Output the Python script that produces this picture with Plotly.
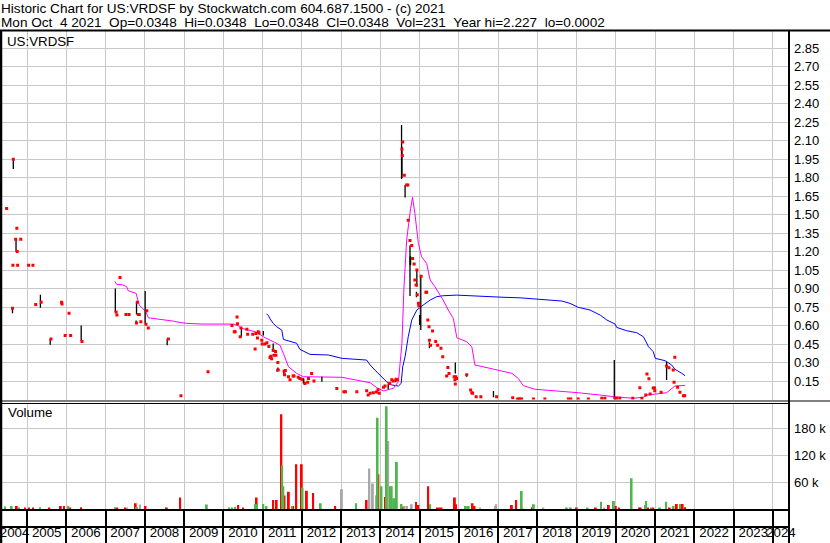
import plotly.graph_objects as go
from datetime import datetime

# ---------------- data (decimal years, prices, volumes) ----------------
dot_t = [2004.48, 2004.63, 2004.64, 2004.65, 2004.71, 2004.74, 2004.75, 2004.76, 2004.84, 2005.04,
         2005.15, 2005.22, 2005.36, 2005.61, 2005.88, 2005.89, 2005.97, 2006.07, 2006.11, 2006.40,
         2007.27, 2007.29, 2007.37, 2007.52, 2007.60, 2007.79, 2007.81, 2007.84, 2007.86, 2007.90,
         2008.03, 2008.05, 2008.09, 2008.60, 2008.92, 2009.61, 2010.22, 2010.28, 2010.30, 2010.35,
         2010.36, 2010.43, 2010.45, 2010.60, 2010.62, 2010.75, 2010.81, 2010.83, 2010.87, 2010.89,
         2010.91, 2010.98, 2010.99, 2011.06, 2011.11, 2011.16, 2011.19, 2011.21, 2011.23, 2011.27,
         2011.29, 2011.33, 2011.34, 2011.39, 2011.40, 2011.55, 2011.56, 2011.58, 2011.66, 2011.70,
         2011.78, 2011.80, 2011.91, 2011.95, 2012.00, 2012.08, 2012.15, 2012.17, 2012.25, 2012.31,
         2012.89, 2013.07, 2013.11, 2013.40, 2013.65, 2013.69, 2013.74, 2013.82, 2013.90, 2013.94,
         2013.97, 2014.08, 2014.12, 2014.24, 2014.29, 2014.33, 2014.40, 2014.43, 2014.55, 2014.56,
         2014.57, 2014.61, 2014.67, 2014.70, 2014.71, 2014.755, 2014.80, 2014.82, 2014.86, 2014.88,
         2014.91, 2014.93, 2014.94, 2014.97, 2014.98, 2015.04, 2015.16, 2015.18, 2015.21, 2015.24,
         2015.25, 2015.28, 2015.33, 2015.41, 2015.46, 2015.545, 2015.59, 2015.69, 2015.72, 2015.75,
         2015.88, 2015.90, 2015.91, 2015.92, 2015.94, 2016.20, 2016.30, 2016.33, 2016.35, 2016.44,
         2016.56, 2016.96, 2017.37, 2017.49, 2017.52, 2017.56, 2017.60, 2017.90, 2018.19, 2018.79,
         2018.85, 2019.04, 2019.30, 2019.64, 2019.72, 2019.98, 2020.02, 2020.10, 2020.43, 2020.61,
         2020.66, 2020.76, 2020.79, 2020.84, 2020.87, 2020.95, 2020.98, 2020.99, 2021.15, 2021.29,
         2021.35, 2021.46, 2021.48, 2021.50, 2021.57, 2021.63, 2021.72, 2021.75]
dot_p = [1.55, 0.74, 1.09, 1.95, 1.30, 1.39, 1.20, 1.09, 1.30, 1.09,
         1.09, 0.77, 0.79, 0.49, 0.79, 0.775, 0.52, 0.70, 0.52, 0.47,
         0.71, 0.685, 0.99, 0.69, 0.69, 0.62, 0.79, 0.69, 0.69, 0.63,
         0.61, 0.72, 0.58, 0.49, 0.03, 0.225, 0.60, 0.55, 0.55, 0.67,
         0.615, 0.51, 0.58, 0.57, 0.53, 0.53, 0.41, 0.535, 0.50, 0.55,
         0.54, 0.48, 0.45, 0.45, 0.46, 0.43, 0.34, 0.35, 0.33, 0.40,
         0.36, 0.39, 0.36, 0.30, 0.24, 0.23, 0.20, 0.235, 0.185, 0.16,
         0.19, 0.19, 0.18, 0.17, 0.165, 0.13, 0.14, 0.17, 0.21, 0.15,
         0.09, 0.063, 0.063, 0.063, 0.07, 0.036, 0.05, 0.055, 0.06, 0.08,
         0.05, 0.10, 0.11, 0.13, 0.16, 0.15, 0.165, 0.16, 2.03, 1.98,
         2.09, 1.82, 1.74, 1.74, 1.455, 1.29, 1.25, 1.145, 1.10, 0.97,
         0.93, 1.05, 0.85, 0.78, 0.76, 1.00, 0.87, 0.87, 0.645, 0.59,
         0.48, 0.44, 0.555, 0.47, 0.44, 0.415, 0.347, 0.19, 0.26, 0.21,
         0.185, 0.16, 0.126, 0.185, 0.17, 0.20, 0.077, 0.055, 0.05, 0.023,
         0.023, 0.023, 0.015, 0.003, 0.005, 0.005, 0.005, 0.005, 0.005, 0.005,
         0.005, 0.005, 0.005, 0.01, 0.01, 0.01, 0.01, 0.01, 0.01, 0.096,
         0.01, 0.036, 0.207, 0.169, 0.045, 0.093, 0.093, 0.07, 0.058, 0.272,
         0.258, 0.239, 0.139, 0.342, 0.099, 0.058, 0.031, 0.031]

bar_t = [2004.63, 2004.65, 2004.72, 2005.34, 2005.59, 2006.38, 2007.25, 2007.78, 2007.79, 2008.01,
         2008.57, 2010.46, 2011.02, 2011.27, 2011.37, 2011.39, 2011.54, 2012.04, 2012.05, 2012.51,
         2014.20, 2014.39, 2014.54, 2014.55, 2014.63, 2014.755, 2014.76, 2014.77, 2014.92, 2014.93,
         2015.00, 2015.01, 2015.03, 2015.25, 2015.91, 2016.20, 2016.88, 2019.96, 2021.29]
bar_lo = [0.70, 1.87, 1.20, 0.745, 0.445, 0.475, 0.71, 0.62, 0.69, 0.62,
          0.44, 0.51, 0.52, 0.385, 0.225, 0.24, 0.20, 0.13, 0.13, 0.144,
          0.083, 0.14, 1.79, 1.80, 1.64, 0.84, 1.09, 1.09, 0.83, 0.915,
          0.604, 0.604, 0.563, 0.415, 0.21, 0.185, 0.018, 0.0, 0.158]
bar_hi = [0.745, 1.95, 1.30, 0.85, 0.49, 0.60, 0.90, 0.64, 0.79, 0.88,
          0.49, 0.58, 0.555, 0.455, 0.25, 0.26, 0.234, 0.17, 0.17, 0.185,
          0.131, 0.164, 2.227, 2.05, 1.74, 1.25, 1.16, 1.16, 0.874, 1.05,
          0.685, 0.685, 0.996, 0.464, 0.30, 0.20, 0.069, 0.32, 0.306]

ma_short_t = [2007.24, 2007.285, 2007.43, 2007.54, 2007.58, 2007.69, 2007.78, 2007.81, 2007.86, 2007.94,
              2008.02, 2008.09, 2008.34, 2008.60, 2008.73, 2008.87, 2009.07, 2009.45, 2010.26, 2010.38,
              2010.47, 2010.64, 2010.81, 2010.89, 2011.02, 2011.19, 2011.32, 2011.44, 2011.53, 2011.66,
              2011.87, 2012.04, 2013.02, 2013.74, 2013.91, 2014.08, 2014.33, 2014.46, 2014.55, 2014.60,
              2014.67, 2014.74, 2014.77, 2014.82, 2014.88, 2014.97, 2015.05, 2015.18, 2015.27, 2015.39,
              2015.60, 2015.73, 2015.86, 2015.95, 2016.20, 2016.33, 2016.41, 2016.79, 2017.13, 2017.35,
              2017.51, 2017.64, 2017.94, 2018.45, 2019.04, 2019.60, 2019.93, 2020.44, 2020.70, 2020.79,
              2021.00, 2021.29, 2021.50, 2021.63, 2021.76]
ma_short_v = [0.958, 0.934, 0.931, 0.915, 0.882, 0.872, 0.861, 0.825, 0.766, 0.739,
              0.718, 0.663, 0.653, 0.647, 0.636, 0.626, 0.618, 0.612, 0.612, 0.598,
              0.577, 0.564, 0.550, 0.537, 0.509, 0.482, 0.460, 0.442, 0.375, 0.266,
              0.212, 0.185, 0.180, 0.136, 0.096, 0.069, 0.091, 0.144, 0.456, 0.900,
              1.293, 1.482, 1.550, 1.640, 1.510, 1.266, 1.158, 1.104, 0.969, 0.915,
              0.807, 0.726, 0.658, 0.501, 0.469, 0.428, 0.280, 0.253, 0.225, 0.212,
              0.172, 0.112, 0.083, 0.071, 0.055, 0.036, 0.023, 0.010, 0.018, 0.036,
              0.045, 0.055, 0.109, 0.115, 0.115]

ma_long_t = [2011.10, 2011.15, 2011.19, 2011.27, 2011.36, 2011.49, 2011.53, 2011.70, 2011.87, 2011.95,
             2012.21, 2012.675, 2013.02, 2013.65, 2013.74, 2013.86, 2013.99, 2014.16, 2014.29, 2014.46,
             2014.53, 2014.57, 2014.63, 2014.71, 2014.80, 2014.93, 2015.09, 2015.27, 2015.435, 2015.60,
             2015.945, 2016.37, 2016.79, 2017.175, 2017.56, 2018.07, 2018.62, 2018.83, 2019.04, 2019.34,
             2019.60, 2019.77, 2019.98, 2020.02, 2020.275, 2020.53, 2020.70, 2020.83, 2020.95, 2021.00,
             2021.25, 2021.42, 2021.505, 2021.68, 2021.76]
ma_long_v = [0.696, 0.680, 0.655, 0.618, 0.590, 0.563, 0.488, 0.474, 0.456, 0.407,
             0.366, 0.361, 0.334, 0.320, 0.280, 0.239, 0.199, 0.144, 0.118, 0.109,
             0.131, 0.266, 0.347, 0.509, 0.645, 0.726, 0.766, 0.807, 0.834, 0.842,
             0.847, 0.839, 0.834, 0.829, 0.825, 0.812, 0.799, 0.780, 0.748, 0.726,
             0.685, 0.645, 0.612, 0.585, 0.558, 0.542, 0.509, 0.428, 0.388, 0.334,
             0.315, 0.280, 0.245, 0.212, 0.193]

vol_up_t = [2004.44, 2004.61, 2004.80, 2005.33, 2006.05, 2007.24, 2007.80, 2009.58, 2010.15, 2010.22,
            2010.30, 2010.81, 2010.86, 2011.02, 2011.10, 2011.50, 2011.53, 2011.75, 2012.02, 2012.48,
            2013.38, 2013.93, 2014.03, 2014.16, 2014.25, 2014.29, 2014.37, 2014.42, 2014.54, 2015.27,
            2016.18, 2016.25, 2017.60, 2017.91, 2018.75, 2018.85, 2019.28, 2019.62, 2019.95, 2020.40,
            2020.74, 2020.77, 2020.90, 2021.12, 2021.28, 2021.47, 2021.63]
vol_up = [5600, 6700, 2200, 3700, 6700, 3700, 4500, 10000, 2200, 3000,
          4500, 11000, 11000, 11000, 6700, 98000, 51000, 6700, 48000, 12700,
          12700, 204000, 51000, 230000, 51000, 51000, 24000, 105000, 11000, 10800,
          6700, 6700, 40000, 10800, 2200, 2200, 2200, 16000, 17800, 69000,
          9000, 17800, 2200, 2200, 16000, 6700, 11000]

vol_dn_t = [2004.74, 2004.95, 2005.05, 2005.15, 2005.57, 2005.86, 2005.94, 2006.10, 2006.38, 2007.30,
            2007.50, 2007.77, 2008.02, 2008.56, 2008.90, 2010.38, 2010.50, 2010.85, 2011.27, 2011.36,
            2011.48, 2011.56, 2011.67, 2011.78, 2011.86, 2012.00, 2012.13, 2012.29, 2012.85, 2013.65,
            2013.95, 2014.14, 2014.56, 2014.91, 2014.97, 2015.22, 2015.45, 2015.50, 2015.56, 2015.90,
            2015.93, 2016.35, 2016.40, 2017.35, 2017.46, 2017.88, 2019.00, 2019.49, 2019.82, 2020.00,
            2020.08, 2020.60, 2020.63, 2020.82, 2020.95, 2021.37, 2021.55, 2021.70, 2021.76]
vol_dn = [6700, 2200, 2200, 2200, 2200, 6700, 6700, 2200, 3700, 2200,
          2200, 12700, 6700, 3000, 26000, 9000, 3000, 26000, 20000, 20000,
          212000, 30000, 38600, 6700, 100000, 100000, 41000, 36000, 6700, 20000,
          78000, 27000, 5000, 15600, 8900, 51000, 2200, 2200, 2200, 26000,
          10800, 12700, 6700, 9000, 20000, 3700, 2200, 2200, 9000, 6700,
          2200, 2200, 2200, 2200, 2200, 2200, 11000, 11000, 3700]

vol_flat_t = [2007.55, 2007.88, 2013.02, 2013.72, 2013.81, 2013.89, 2014.20, 2014.33, 2014.62, 2014.68,
              2014.80, 2016.54, 2016.92, 2016.95, 2017.62, 2018.15, 2019.70]
vol_flat = [2200, 10000, 44000, 90700, 57000, 31000, 152000, 24000, 6700, 6700,
            10800, 2200, 6700, 10800, 2200, 2200, 2200]

price_ticks = [0.15, 0.30, 0.45, 0.60, 0.75, 0.90, 1.05, 1.20, 1.35, 1.50,
               1.65, 1.80, 1.95, 2.10, 2.25, 2.40, 2.55, 2.70, 2.85]
vol_ticks = [60000, 120000, 180000]
vol_tick_labels = ["60 k", "120 k", "180 k"]
years = list(range(2004, 2025))

header1 = "Historic Chart for US:VRDSF by Stockwatch.com 604.687.1500 - (c) 2021"
header2 = ("Mon Oct  4 2021  Op=0.0348  Hi=0.0348  Lo=0.0348  Cl=0.0348  "
           "Vol=231  Year hi=2.227  lo=0.0002")
symbol_label = "US:VRDSF"

# ---------------- helpers ----------------
W, H = 830, 543
T_START, T_END = 2004.363, 2024.409


def to_date(t):
    y = int(t)
    a, b = datetime(y, 1, 1), datetime(y + 1, 1, 1)
    return a + (b - a) * (t - y)


def px(x):
    return x / W


def py(y):
    return 1 - y / H


FONT = "Liberation Sans, Arial, sans-serif"
GRID = "#c8c8c8"

fig = go.Figure()

# moving averages
fig.add_trace(go.Scatter(x=[to_date(t) for t in ma_long_t], y=ma_long_v, mode="lines",
                         line=dict(color="#0000ff", width=1), xaxis="x", yaxis="y",
                         hoverinfo="skip", showlegend=False))
fig.add_trace(go.Scatter(x=[to_date(t) for t in ma_short_t], y=ma_short_v, mode="lines",
                         line=dict(color="#ff00ff", width=1), xaxis="x", yaxis="y",
                         hoverinfo="skip", showlegend=False))

# high-low bars
hx, hy = [], []
for t, lo, hi in zip(bar_t, bar_lo, bar_hi):
    d = to_date(t)
    hx += [d, d, None]
    hy += [lo, hi, None]
fig.add_trace(go.Scatter(x=hx, y=hy, mode="lines", line=dict(color="black", width=1.3),
                         xaxis="x", yaxis="y", hoverinfo="skip", showlegend=False))

# close dots
fig.add_trace(go.Scatter(x=[to_date(t) for t in dot_t], y=dot_p, mode="markers",
                         marker=dict(symbol="square", size=3, color="#ff0000", line=dict(width=0)),
                         xaxis="x", yaxis="y", hoverinfo="skip", showlegend=False))

# volume bars
BW = 1.5e9
for ts, vs, col in [(vol_flat_t, vol_flat, "#a8a8a8"), (vol_dn_t, vol_dn, "#ff0000"),
                    (vol_up_t, vol_up, "#4cb84c")]:
    fig.add_trace(go.Bar(x=[to_date(t) for t in ts], y=vs, width=BW, marker_color=col,
                         marker_line_width=0, xaxis="x2", yaxis="y2", hoverinfo="skip",
                         showlegend=False))

# empty traces for the label axes
fig.add_trace(go.Scatter(x=[], y=[], xaxis="x3", yaxis="y3", showlegend=False))
fig.add_trace(go.Scatter(x=[], y=[], xaxis="x4", yaxis="y3", showlegend=False))

x0 = to_date(T_START)
x1 = to_date(T_END)

# year labels centred on the visible part of each year
label_pos = [to_date((max(y, T_START) + min(y + 1, T_END)) / 2) for y in years]

common_x = dict(type="date", range=[x0, x1], domain=[px(2), px(789)], tick0="2005-01-01",
                dtick="M12", showgrid=True, gridcolor=GRID, gridwidth=1, showticklabels=False,
                ticks="", zeroline=False, showline=False, fixedrange=True, automargin=False)

fig.update_layout(
    width=W, height=H, margin=dict(l=0, r=0, t=0, b=0, autoexpand=False),
    paper_bgcolor="white", plot_bgcolor="white", barmode="overlay",
    showlegend=False,
    font=dict(family=FONT, size=13, color="black"),
    xaxis=dict(anchor="y", **common_x),
    xaxis2=dict(anchor="y2", matches="x", **common_x),
    xaxis3=dict(anchor="y3", **{**common_x, "gridcolor": "black", "gridwidth": 2}),
    xaxis4=dict(anchor="y3", overlaying="x3", type="date", range=[x0, x1],
                domain=[px(2), px(789)], tickmode="array", tickvals=label_pos,
                ticktext=[str(y) for y in years], ticklabelposition="inside",
                ticklabeloverflow="allow", tickangle=0, automargin=False,
                showgrid=False, ticks="", zeroline=False,
                showline=False, fixedrange=True, tickfont=dict(size=13.3, color="black")),
    yaxis=dict(domain=[py(399.5), py(31)], range=[0, 2.99], tickvals=price_ticks,
               tickformat=".2f", side="right", anchor="x", showgrid=True, gridcolor=GRID,
               ticks="", ticklabelstandoff=4, zeroline=False, showline=False, fixedrange=True,
               automargin=False, tickfont=dict(size=13, color="black")),
    yaxis2=dict(domain=[py(509), py(403.5)], range=[0, 236000], tickvals=vol_ticks,
                ticktext=vol_tick_labels, side="right", anchor="x2", showgrid=True,
                gridcolor=GRID, ticks="", ticklabelstandoff=4, zeroline=False, showline=False,
                fixedrange=True, automargin=False, tickfont=dict(size=13, color="black")),
    yaxis3=dict(domain=[0, py(510)], range=[0, 1], anchor="x3", showgrid=False,
                showticklabels=False, zeroline=False, fixedrange=True, automargin=False),
)


# frame lines
def hline(y, xa, xb, w):
    fig.add_shape(type="line", xref="paper", yref="paper", x0=px(xa), x1=px(xb),
                  y0=py(y), y1=py(y), line=dict(color="black", width=w))


def vline(x, ya, yb, w):
    fig.add_shape(type="line", xref="paper", yref="paper", x0=px(x), x1=px(x),
                  y0=py(ya), y1=py(yb), line=dict(color="black", width=w))


hline(30.5, 0, 830, 2)
hline(401, 0, 830, 1)
hline(403.5, 0, 789, 1)
hline(510, 0, 789, 2)
hline(527, 0, 789, 2)
vline(1, 30, 543, 2.5)
vline(789, 30, 543, 2)

nb = lambda s: s.replace(" ", "\u00a0")
for txt, x, y, fs in [(header1, -1, 9, 13.6), (header2, -1, 22, 13.6),
                      (symbol_label, 5, 41, 13.3), ("Volume", 6, 413, 13.3)]:
    fig.add_annotation(text=nb(txt), xref="paper", yref="paper", x=px(x), y=py(y),
                       xanchor="left", yanchor="middle", showarrow=False,
                       font=dict(family=FONT, size=fs, color="black"))

fig.write_html("out.html", config={"displayModeBar": False},
               post_script="document.body.style.margin='0';")
